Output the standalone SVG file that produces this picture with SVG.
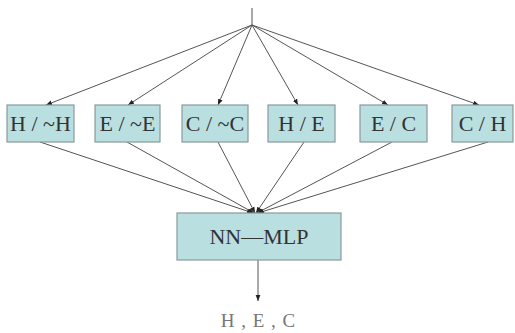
<svg xmlns="http://www.w3.org/2000/svg" width="515" height="333" viewBox="0 0 515 333">
<defs>
<style>
.box{fill:#b9dfe0;stroke:#8a9a9a;stroke-width:1.2}
.lbl{font-family:"Liberation Serif","Times New Roman",serif;font-size:22px;fill:#333;text-anchor:middle}
.edge{stroke:#555;stroke-width:1;fill:none;marker-end:url(#ah)}
</style>
<marker id="ah" viewBox="0 0 10 10" refX="10" refY="5" markerWidth="6" markerHeight="6" orient="auto" markerUnits="userSpaceOnUse">
<path d="M0,1 L10,5 L0,9 Z" fill="#222"/>
</marker>
</defs>
<rect width="515" height="333" fill="#fff"/>
<g id="connectors">
<line x1="252" y1="8" x2="252" y2="25" stroke="#555" stroke-width="1"/>
<line class="edge" x1="252" y1="25" x2="46" y2="105"/>
<line class="edge" x1="252" y1="25" x2="128" y2="105"/>
<line class="edge" x1="252" y1="25" x2="218" y2="105"/>
<line class="edge" x1="252" y1="25" x2="298" y2="105"/>
<line class="edge" x1="252" y1="25" x2="388" y2="105"/>
<line class="edge" x1="252" y1="25" x2="479" y2="105"/>
<line class="edge" x1="40" y1="142" x2="253" y2="213"/>
<line class="edge" x1="127" y1="142" x2="254" y2="213"/>
<line class="edge" x1="218" y1="142" x2="255" y2="213"/>
<line class="edge" x1="304" y1="142" x2="256" y2="213"/>
<line class="edge" x1="392" y1="142" x2="257" y2="213"/>
<line class="edge" x1="488" y1="142" x2="258" y2="213"/>
<line class="edge" x1="258" y1="260" x2="258" y2="301"/>
</g>
<g id="n-hh"><rect class="box" x="7" y="105" width="67" height="37"/><text class="lbl" x="40.5" y="131">H / ~H</text></g>
<g id="n-ee"><rect class="box" x="95" y="105" width="65" height="37"/><text class="lbl" x="127.5" y="131">E / ~E</text></g>
<g id="n-cc"><rect class="box" x="182" y="105" width="66" height="37"/><text class="lbl" x="215" y="131">C / ~C</text></g>
<g id="n-he"><rect class="box" x="268" y="105" width="67" height="37"/><text class="lbl" x="301.5" y="131">H / E</text></g>
<g id="n-ec"><rect class="box" x="360" y="105" width="67" height="37"/><text class="lbl" x="393.5" y="131">E / C</text></g>
<g id="n-ch"><rect class="box" x="452" y="105" width="61" height="37"/><text class="lbl" x="482.5" y="131">C / H</text></g>
<g id="n-mlp"><rect class="box" x="177" y="213" width="164" height="47"/><text class="lbl" x="259" y="244">NN—MLP</text></g>
<g id="out"><text x="258" y="327" font-family="'Liberation Serif','Times New Roman',serif" font-size="19" word-spacing="2" fill="#777" text-anchor="middle">H , E , C</text></g>
</svg>
